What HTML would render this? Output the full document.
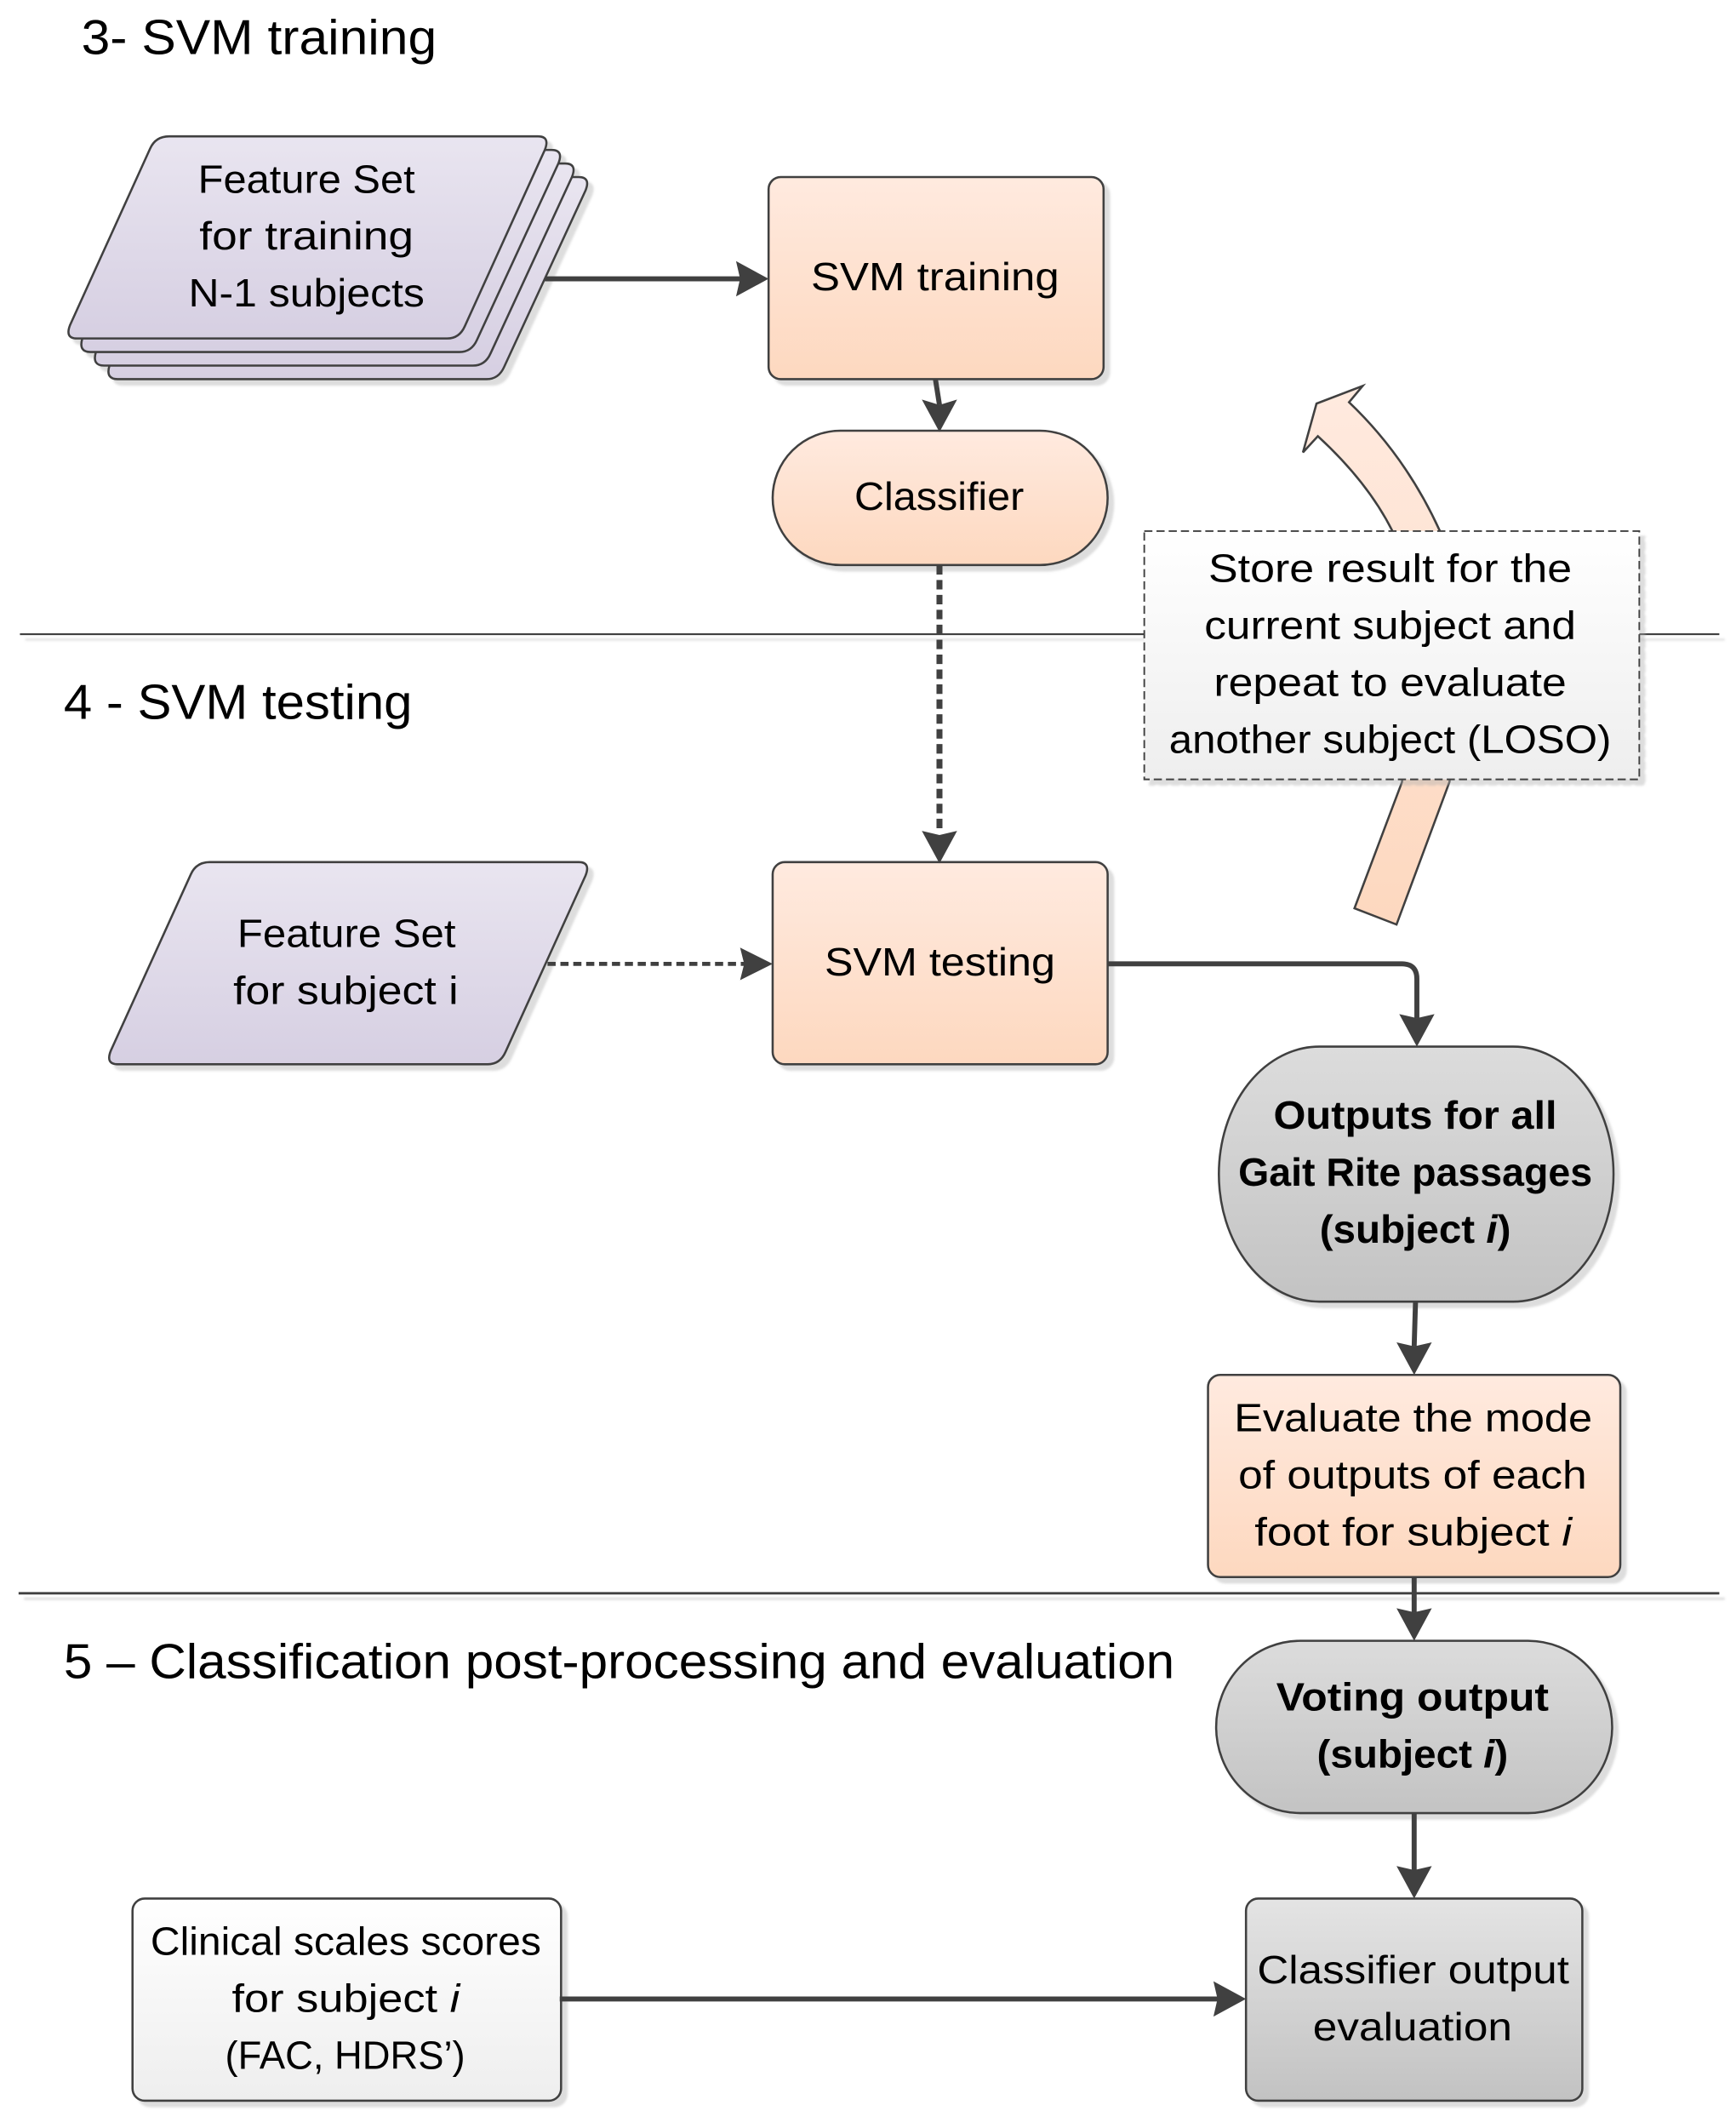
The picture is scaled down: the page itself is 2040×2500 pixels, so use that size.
<!DOCTYPE html>
<html>
<head>
<meta charset="utf-8">
<title>SVM flow diagram</title>
<style>
html,body{margin:0;padding:0;background:#fff}
svg{display:block}
text{font-family:"Liberation Sans",sans-serif;font-size:29px;fill:#000}
.t{font-size:36px}
.b{font-weight:bold}
.s{stroke:#404040;stroke-width:1.6}
.c{stroke:#404040;stroke-width:3.7;fill:none}
.h{fill:#404040;stroke:none}
</style>
</head>
<body>
<svg xmlns="http://www.w3.org/2000/svg" width="2040" height="2500" viewBox="0 0 1280 1568.63" preserveAspectRatio="none">
<defs>
<linearGradient id="p" x1="0" y1="0" x2="0" y2="1"><stop offset="0" stop-color="#e9e5f0"/><stop offset="1" stop-color="#d6cfe2"/></linearGradient>
<linearGradient id="o" x1="0" y1="0" x2="0" y2="1"><stop offset="0" stop-color="#ffeadf"/><stop offset="1" stop-color="#fdd8bf"/></linearGradient>
<linearGradient id="g" x1="0" y1="0" x2="0" y2="1"><stop offset="0" stop-color="#dcdcdc"/><stop offset="1" stop-color="#c3c3c3"/></linearGradient>
<linearGradient id="g2" x1="0" y1="0" x2="0" y2="1"><stop offset="0" stop-color="#e4e4e4"/><stop offset="1" stop-color="#c2c2c2"/></linearGradient>
<linearGradient id="w" x1="0" y1="0" x2="0" y2="1"><stop offset="0" stop-color="#ffffff"/><stop offset="1" stop-color="#eeeeee"/></linearGradient>
<filter id="sh" x="-10%" y="-10%" width="125%" height="125%"><feDropShadow dx="4" dy="4" stdDeviation="0.8" flood-color="#aaa" flood-opacity=".4"/></filter>
</defs>

<g transform="translate(0.7,0.5)">
<!-- section lines -->
<g filter="url(#sh)">
<line x1="14" y1="467" x2="1267" y2="467" stroke="#404040" stroke-width="1.3"/>
<line x1="13" y1="1174" x2="1267" y2="1174" stroke="#404040" stroke-width="1.8"/>
</g>

<!-- curved feedback arrow -->
<path class="s" fill="url(#o)" d="M998,669 L1029,681 L1068,576 C1076,520 1082,450 1061,391 Q1036,336 994,296 L1004,284 L970,297 L960,333 L971,321 Q1008,355 1026,391 C1045,450 1040,520 1033,576 Z"/>

<!-- stacked parallelograms -->
<g filter="url(#sh)">
<path class="s" fill="url(#p)" d="M146,130 H426 Q435,130 431,140 L371,270 Q367,279 358,279 H86 Q77,279 80,269 L139,139 Q142,130 146,130 Z"/>
<path class="s" fill="url(#p)" d="M136,120 H416 Q425,120 421,130 L361,260 Q357,269 348,269 H76 Q67,269 70,259 L129,129 Q132,120 136,120 Z"/>
<path class="s" fill="url(#p)" d="M126,110 H406 Q415,110 411,120 L351,250 Q347,259 338,259 H66 Q57,259 60,249 L119,119 Q122,110 126,110 Z"/>
<path class="s" fill="url(#p)" d="M124,100 H396 Q405,100 401,110 L342,240 Q338,249 329,249 H56 Q47,249 51,239 L110,109 Q114,100 124,100 Z"/>
</g>

<!-- single parallelogram -->
<path class="s" fill="url(#p)" filter="url(#sh)" d="M154,635 H426 Q435,635 431,645 L372,775 Q368,784 359,784 H86 Q77,784 81,774 L140,644 Q144,635 154,635 Z"/>

<!-- orange nodes -->
<rect class="s" fill="url(#o)" filter="url(#sh)" x="566" y="130" width="247" height="149" rx="9"/>
<rect class="s" fill="url(#o)" filter="url(#sh)" x="569" y="317" width="247" height="99" rx="50" ry="49.5"/>
<rect class="s" fill="url(#o)" filter="url(#sh)" x="569" y="635" width="247" height="149" rx="9"/>
<rect class="s" fill="url(#o)" filter="url(#sh)" x="890" y="1013" width="304" height="149" rx="9"/>

<!-- gray nodes -->
<rect class="s" fill="url(#g)" filter="url(#sh)" x="898" y="771" width="291" height="188" rx="74" ry="94"/>
<rect class="s" fill="url(#g)" filter="url(#sh)" x="896" y="1209" width="292" height="127" rx="62" ry="63.5"/>
<rect class="s" fill="url(#g2)" filter="url(#sh)" x="918" y="1399" width="248" height="149" rx="9"/>

<!-- white nodes -->
<rect class="s" fill="url(#w)" filter="url(#sh)" x="97" y="1399" width="316" height="149" rx="9"/>
<rect fill="url(#w)" filter="url(#sh)" stroke="#404040" stroke-width="1.2" stroke-dasharray="6 3" x="843" y="391" width="365" height="183"/>

<!-- connectors -->
<line class="c" x1="401" y1="205" x2="546" y2="205"/>
<path class="h" d="M566,205 L542,192 L545,205 L542,218 Z"/>

<line class="c" x1="689" y1="279" x2="692" y2="298"/>
<path class="h" d="M692,318 L679,294 L692,298 L705,294 Z"/>

<line class="c" x1="692" y1="416" x2="692" y2="614" stroke-dasharray="7 4" style="stroke-width:4.4"/>
<path class="h" d="M692,636 L679,612 L692,615 L705,612 Z"/>

<line class="c" x1="403" y1="710" x2="549" y2="710" stroke-dasharray="6 3.5" style="stroke-width:3"/>
<path class="h" d="M569,710 L545,698 L548,710 L545,722 Z"/>

<path class="c" d="M816,710 H1033 Q1044,710 1044,721 V750"/>
<path class="h" d="M1044,771 L1031,747 L1044,750 L1057,747 Z"/>

<line class="c" x1="1043" y1="959" x2="1042" y2="992"/>
<path class="h" d="M1042,1013 L1029,989 L1042,992 L1055,989 Z"/>

<line class="c" x1="1042" y1="1162" x2="1042" y2="1188"/>
<path class="h" d="M1042,1209 L1029,1185 L1042,1188 L1055,1185 Z"/>

<line class="c" x1="1042" y1="1336" x2="1042" y2="1378"/>
<path class="h" d="M1042,1399 L1029,1375 L1042,1378 L1055,1375 Z"/>

<line class="c" x1="412" y1="1473" x2="898" y2="1473"/>
<path class="h" d="M918,1473 L894,1460 L897,1473 L894,1486 Z"/>
</g>

<!-- titles -->
<text class="t" x="60" y="40" textLength="262" lengthAdjust="spacingAndGlyphs">3- SVM training</text>
<text class="t" x="47" y="530" textLength="257" lengthAdjust="spacingAndGlyphs">4 - SVM testing</text>
<text class="t" x="47" y="1237" textLength="819" lengthAdjust="spacingAndGlyphs">5 – Classification post-processing and evaluation</text>

<!-- labels -->
<text x="146" y="142" textLength="160" lengthAdjust="spacingAndGlyphs">Feature Set</text>
<text x="147" y="184" textLength="158" lengthAdjust="spacingAndGlyphs">for training</text>
<text x="139" y="226" textLength="174" lengthAdjust="spacingAndGlyphs">N-1 subjects</text>
<text x="598" y="214" textLength="183" lengthAdjust="spacingAndGlyphs">SVM training</text>
<text x="630" y="376" textLength="125" lengthAdjust="spacingAndGlyphs">Classifier</text>

<text x="891" y="429" textLength="268" lengthAdjust="spacingAndGlyphs">Store result for the</text>
<text x="888" y="471" textLength="274" lengthAdjust="spacingAndGlyphs">current subject and</text>
<text x="895" y="513" textLength="260" lengthAdjust="spacingAndGlyphs">repeat to evaluate</text>
<text x="862" y="555" textLength="326" lengthAdjust="spacingAndGlyphs">another subject (LOSO)</text>

<text x="175" y="698" textLength="161" lengthAdjust="spacingAndGlyphs">Feature Set</text>
<text x="172" y="740" textLength="166" lengthAdjust="spacingAndGlyphs">for subject i</text>
<text x="608" y="719" textLength="170" lengthAdjust="spacingAndGlyphs">SVM testing</text>

<text class="b" x="939" y="832" textLength="209" lengthAdjust="spacingAndGlyphs">Outputs for all</text>
<text class="b" x="913" y="874" textLength="261" lengthAdjust="spacingAndGlyphs">Gait Rite passages</text>
<text class="b" x="973" y="916" textLength="141" lengthAdjust="spacingAndGlyphs">(subject <tspan font-style="italic">i</tspan>)</text>

<text x="910" y="1055" textLength="264" lengthAdjust="spacingAndGlyphs">Evaluate the mode</text>
<text x="913" y="1097" textLength="257" lengthAdjust="spacingAndGlyphs">of outputs of each</text>
<text x="925" y="1139" textLength="234" lengthAdjust="spacingAndGlyphs">foot for subject <tspan font-style="italic">i</tspan></text>

<text class="b" x="941" y="1261" textLength="201" lengthAdjust="spacingAndGlyphs">Voting output</text>
<text class="b" x="971" y="1303" textLength="141" lengthAdjust="spacingAndGlyphs">(subject <tspan font-style="italic">i</tspan>)</text>

<text x="111" y="1441" textLength="288" lengthAdjust="spacingAndGlyphs">Clinical scales scores</text>
<text x="171" y="1483" textLength="168" lengthAdjust="spacingAndGlyphs">for subject <tspan font-style="italic">i</tspan></text>
<text x="166" y="1525" textLength="177" lengthAdjust="spacingAndGlyphs">(FAC, HDRS’)</text>

<text x="927" y="1462" textLength="230" lengthAdjust="spacingAndGlyphs">Classifier output</text>
<text x="968" y="1504" textLength="147" lengthAdjust="spacingAndGlyphs">evaluation</text>
</svg>
</body>
</html>
